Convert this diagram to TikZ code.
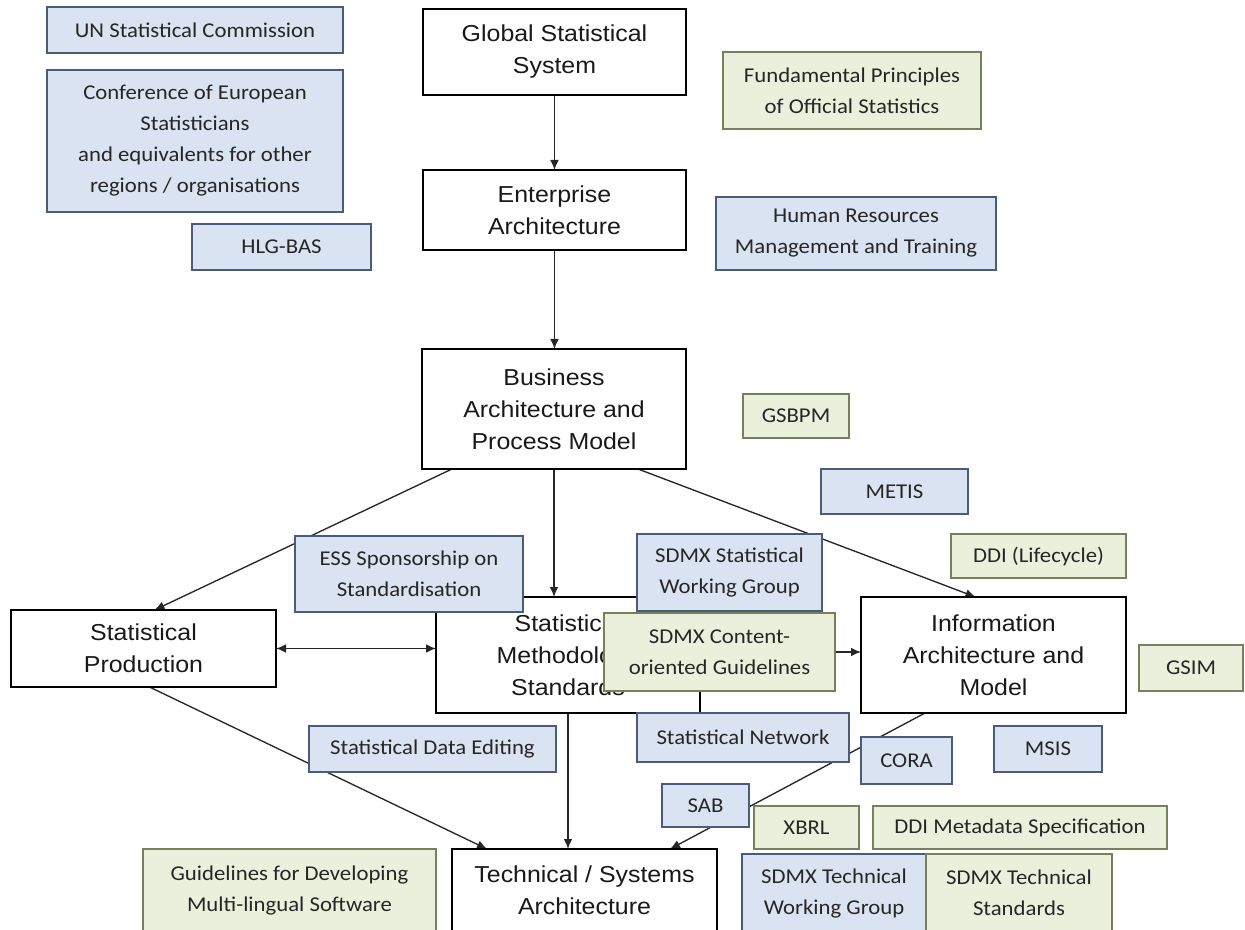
\documentclass[tikz,border=0pt]{standalone}
\usepackage{fontspec}
\setmainfont{Carlito}[FakeStretch=1.08]
\newfontfamily\arialf{Liberation Sans}[FakeStretch=1.08]
\usetikzlibrary{arrows.meta,calc}
\pgfdeclarelayer{background}
\pgfsetlayers{background,main}
\definecolor{bfill}{HTML}{DAE3F2}
\definecolor{bline}{HTML}{4A5C7C}
\definecolor{gfill}{HTML}{EBF0DC}
\definecolor{gline}{HTML}{76805A}
\definecolor{cline}{HTML}{262626}
\newcommand\mkbox[7]{\node[#2,anchor=north west,minimum width={(#5-#3)*0.75pt},minimum height={(#6-#4)*0.75pt}] (#1) at (#3,#4) {#7};}
\tikzset{
  mainbox/.style={draw=black,line width=1.3pt,fill=white,inner sep=0pt,outer sep=0pt,align=center,text=black!90,font=\arialf\fontsize{17.3}{24}\selectfont},
  bluebox/.style={draw=bline,line width=1.1pt,fill=bfill,inner sep=0pt,outer sep=0pt,align=center,text=black!85,font=\fontsize{15.8}{23.25}\selectfont},
  greenbox/.style={draw=gline,line width=1.1pt,fill=gfill,inner sep=0pt,outer sep=0pt,align=center,text=black!85,font=\fontsize{15.8}{23.25}\selectfont},
  conn/.style={draw=cline,line width=1pt},
  arr/.style={conn,-{Latex[length=7.5pt,width=6.5pt]}},
  dblarr/.style={conn,{Latex[length=7.5pt,width=6.5pt]}-{Latex[length=7.5pt,width=6.5pt]}}
}
\begin{document}
\begin{tikzpicture}[x=0.75pt,y=-0.75pt]
\useasboundingbox (0,0) rectangle (1245,930);
\clip (0,0) rectangle (1245,930);
% main boxes
\mkbox{glob}{mainbox}{423}{9}{686}{95}{Global Statistical\\System}
\mkbox{ent}{mainbox}{423}{170}{686}{250}{Enterprise\\Architecture}
\mkbox{bus}{mainbox}{422}{349}{686}{469}{Business\\Architecture and\\Process Model}
\mkbox{prod}{mainbox}{11}{610}{276}{687}{Statistical\\Production}
\mkbox{meth}{mainbox}{436}{597}{700}{713}{Statistical\\Methodology\\Standards}
\mkbox{info}{mainbox}{861}{597}{1126}{713}{Information\\Architecture and\\Model}
\mkbox{tech}{mainbox}{452}{849}{717}{932}{Technical / Systems\\Architecture}
% blue boxes
\mkbox{un}{bluebox}{47}{7}{343}{53}{UN Statistical Commission}
\mkbox{cese}{bluebox}{47}{70}{343}{212}{Conference of European\\Statisticians\\and equivalents for other\\regions / organisations}
\mkbox{hlg}{bluebox}{192}{224}{371}{270}{HLG-BAS}
\mkbox{hr}{bluebox}{716}{197}{996}{270}{Human Resources\\Management and Training}
\mkbox{metis}{bluebox}{821}{469}{968}{514}{METIS}
\mkbox{ess}{bluebox}{295}{536}{523}{612}{ESS Sponsorship on\\Standardisation}
\mkbox{sswg}{bluebox}{637}{534}{822}{611}{SDMX Statistical\\Working Group}
% green boxes
\mkbox{fpos}{greenbox}{723}{52}{981}{129}{Fundamental Principles\\of Official Statistics}
\mkbox{gsbpm}{greenbox}{743}{394}{849}{438}{GSBPM}
\mkbox{ddil}{greenbox}{951}{534}{1126}{578}{DDI (Lifecycle)}
\mkbox{cont}{greenbox}{604}{613}{835}{691}{SDMX Content-\\oriented Guidelines}
\mkbox{gsim}{greenbox}{1139}{645}{1243}{691}{GSIM}
% lower boxes
\mkbox{net}{bluebox}{637}{713}{849}{762}{Statistical Network}
\mkbox{sde}{bluebox}{309}{726}{556}{772}{Statistical Data Editing}
\mkbox{cora}{bluebox}{861}{737}{952}{784}{CORA}
\mkbox{msis}{bluebox}{994}{726}{1102}{772}{MSIS}
\mkbox{sab}{bluebox}{662}{784}{749}{827}{SAB}
\mkbox{xbrl}{greenbox}{754}{806}{859}{849}{XBRL}
\mkbox{ddim}{greenbox}{873}{806}{1167}{849}{DDI Metadata Specification}
\mkbox{guide}{greenbox}{143}{849}{436}{932}{Guidelines for Developing\\Multi-lingual Software}
\mkbox{stwg}{bluebox}{742}{854}{926}{932}{SDMX Technical\\Working Group}
\mkbox{sts}{greenbox}{926}{854}{1112}{932}{SDMX Technical\\Standards}
% connectors
\begin{pgfonlayer}{background}
\fill[white] (0,0) rectangle (1245,930);
\draw[arr] (glob.south) -- (glob.south |- ent.north);
\draw[arr] (ent.south) -- (ent.south |- bus.north);
\draw[arr] ($(bus.south west)+(30,0)$) -- ($(prod.north)+(11,0)$);
\draw[arr] (bus.south) -- (bus.south |- meth.north);
\draw[arr] ($(bus.south east)+(-48,0)$) -- ($(info.north)+(-18,0)$);
\draw[dblarr] (prod.east) -- (prod.east -| meth.west);
\draw[arr] (cont.east) -- (cont.east -| info.west);
\draw[arr] ($(prod.south)+(6,0)$) -- ($(tech.north west)+(35,0)$);
\draw[arr] (meth.south) -- (meth.south |- tech.north);
\draw[arr] ($(info.south west)+(64,0)$) -- ($(tech.north east)+(-47,0)$);
\end{pgfonlayer}
\end{tikzpicture}
\end{document}
